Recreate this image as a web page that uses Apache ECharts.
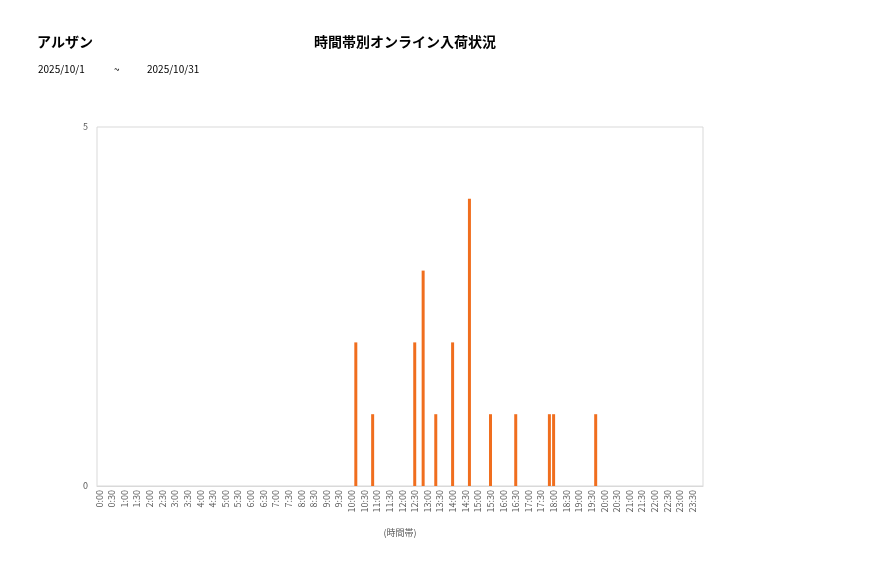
<!DOCTYPE html>
<html><head><meta charset="utf-8">
<script src="https://cdn.jsdelivr.net/npm/echarts@6/dist/echarts.min.js"></script>
<style>html,body{margin:0;padding:0;background:#fff}#c{width:877px;height:578px}</style>
</head><body><div id="c"></div>
<script>
const shopName = 'アルザン';
const chartTitle = '時間帯別オンライン入荷状況';
const dateFrom = '2025/10/1';
const dateTo = '2025/10/31';
const xAxisName = '(時間帯)';
// 10-minute slots 0:00 .. 23:50
const categories = [];
for (let h = 0; h < 24; h++) for (let m = 0; m < 60; m += 10) categories.push(h + ':' + (m < 10 ? '0' + m : m));
const arrivalTimes = ['10:10','10:50','12:30','12:50','13:20','14:00','14:40','15:30','16:30','17:50','18:00','19:40'];
const arrivalCounts = [2,1,2,3,1,2,4,1,1,1,1,1];
const yTicks = [0, 5];

const values = categories.map(c => { const i = arrivalTimes.indexOf(c); return i >= 0 ? arrivalCounts[i] : 0; });
const font = '"Noto Sans CJK JP", "Noto Sans", sans-serif';
const chart = echarts.init(document.getElementById('c'), null, {renderer: 'canvas'});
chart.setOption({
  animation: false,
  textStyle: {fontFamily: font},
  title: [
    {text: shopName, left: 37, top: 35, padding: 0, textStyle: {fontSize: 14, fontWeight: 'bold', color: '#000', fontFamily: font}},
    {text: chartTitle, left: 405, textAlign: 'center', top: 35, padding: 0, textStyle: {fontSize: 14, fontWeight: 'bold', color: '#000', fontFamily: font}},
    {text: dateFrom, left: 38, top: 64, padding: 0, textStyle: {fontSize: 10, fontWeight: 'normal', color: '#000', fontFamily: font}},
    {text: '~', left: 114, top: 64, padding: 0, textStyle: {fontSize: 10, fontWeight: 'normal', color: '#000', fontFamily: font}},
    {text: dateTo, left: 147, top: 64, padding: 0, textStyle: {fontSize: 10, fontWeight: 'normal', color: '#000', fontFamily: font}}
  ],
  grid: {left: 97, right: 174, top: 127, bottom: 92, show: true, borderColor: '#d9d9d9', borderWidth: 1, containLabel: false},
  xAxis: {
    type: 'category', data: categories, boundaryGap: true,
    name: xAxisName, nameLocation: 'middle', nameGap: 42,
    nameTextStyle: {fontSize: 9, color: '#595959', fontFamily: font},
    axisLine: {show: true, lineStyle: {color: '#d9d9d9'}},
    axisTick: {show: false},
    axisLabel: {interval: 2, rotate: 90, fontSize: 9, color: '#595959', margin: 4, fontFamily: font}
  },
  yAxis: {
    type: 'value', min: yTicks[0], max: yTicks[1], interval: yTicks[1] - yTicks[0],
    axisLine: {show: false}, axisTick: {show: false}, splitLine: {show: false},
    axisLabel: {fontSize: 9, color: '#595959', margin: 9, fontFamily: font}
  },
  series: [{type: 'bar', data: values, barWidth: 3, itemStyle: {color: '#F06E1E'}}]
});
</script></body></html>
